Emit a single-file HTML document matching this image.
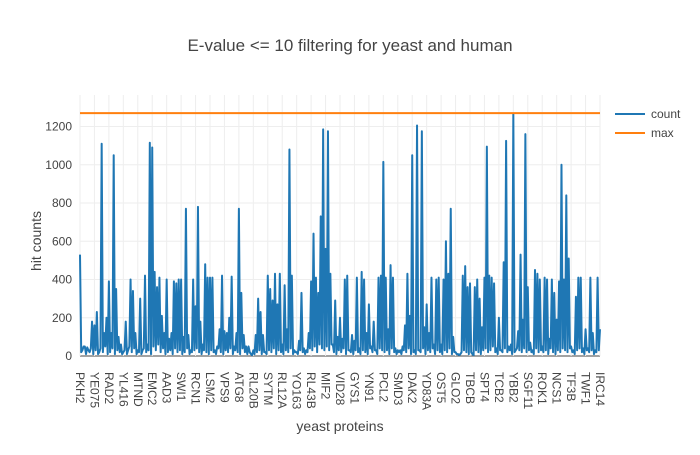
<!DOCTYPE html>
<html><head><meta charset="utf-8">
<style>
html,body{margin:0;padding:0;background:#fff;}
svg text{font-family:"Liberation Sans","DejaVu Sans",sans-serif;fill:#444;}
</style></head>
<body>
<svg id="chart" width="700" height="450" xmlns="http://www.w3.org/2000/svg">
<text x="350" y="51" font-size="17" text-anchor="middle">E-value &lt;= 10 filtering for yeast and human</text>
<g id="grid"></g>
<g id="yticks"></g>
<g id="xticks"></g>
<g id="series"></g>
<text x="0" y="0" font-size="14" text-anchor="middle" transform="translate(41,241) rotate(-90)">hit counts</text>
<text x="340" y="431" font-size="14" text-anchor="middle">yeast proteins</text>
<g>
  <g>
    <line x1="615" y1="114" x2="645" y2="114" stroke="#1f77b4" stroke-width="2"/>
    <text x="651" y="118" font-size="12">count</text>
  </g>
  <g>
    <line x1="615" y1="133" x2="645" y2="133" stroke="#ff7f0e" stroke-width="2"/>
    <text x="651" y="137" font-size="12">max</text>
  </g>
</g>
</svg>
<script>
const counts = [
530,20,30,50,50,10,45,30,20,40,180,10,
160,30,230,10,20,40,1110,20,120,50,200,10,
390,20,120,40,1050,10,350,30,100,20,60,10,
20,30,180,10,30,50,400,20,340,40,120,10,
30,20,300,10,30,40,420,20,60,30,1115,10,
1090,50,440,30,360,60,410,20,210,40,120,10,
400,20,90,30,120,10,390,40,380,20,400,30,
400,10,100,20,770,40,110,10,30,20,400,30,
260,40,780,20,180,10,60,30,480,20,410,10,
410,30,410,20,30,10,50,40,140,20,420,10,
130,30,120,20,200,40,415,10,50,30,120,20,
770,10,330,40,110,20,50,10,50,20,10,5,
30,10,110,20,300,30,230,10,110,20,20,10,
420,30,350,20,290,40,430,10,270,30,430,20,
60,10,370,30,140,20,1080,40,420,10,30,20,
20,10,80,30,330,20,40,10,30,20,120,40,
390,30,640,50,410,20,330,60,730,40,1185,30,
560,50,1175,30,430,60,60,20,290,10,100,30,
200,20,90,40,400,10,420,30,30,20,110,10,
80,30,410,20,40,10,440,30,400,20,120,10,
270,40,50,20,180,30,30,10,410,40,420,30,
1015,20,410,30,140,10,475,40,410,20,40,10,
30,20,30,10,50,30,160,20,430,40,210,10,
1050,20,30,10,1205,30,30,20,1175,40,150,10,
270,30,120,20,410,40,60,10,400,30,410,20,
60,10,400,30,600,20,430,40,770,10,100,20,
20,10,10,5,10,20,420,30,470,20,360,10,
380,20,10,5,360,30,400,20,300,10,150,30,
410,40,1095,20,420,30,410,50,380,20,40,10,
200,30,30,20,490,40,1125,20,50,30,60,10,
1265,20,30,40,130,30,530,20,190,40,1160,20,
360,30,70,20,30,10,450,40,430,20,400,30,
50,20,410,30,400,10,90,40,400,20,330,10,
190,30,390,20,1000,40,400,30,840,20,510,40,
50,20,30,10,310,30,410,40,410,20,40,10,
140,30,40,20,410,30,120,10,30,20,410,30,
140];
const maxValue = [1270];
const tickLabels = ["PKH2","YE075","RAD2","YL416","MTND","EMC2","AAD3","SWI1","RCN1","LSM2","VPS9","ATG8","RL20B","SYTM","RL12A","YO163","RL43B","MIF2","VID28","GYS1","YN91","PCL2","SMD3","DAK2","YD83A","OST5","GLO2","TBCB","SPT4","TCB2","YBB2","SGF11","ROK1","NCS1","TF3B","TWF1","IRC14"];
const tickEvery = [12];
const yTickValues = [0,200,400,600,800,1000,1200];

const NS = "http://www.w3.org/2000/svg";
const X0 = 80, X1 = 600, Y0 = 356, PXU = 0.19125;
const n = counts.length;
function xs(i){ return X0 + (X1 - X0) * i / (n - 1); }
function ys(v){ return Y0 - v * PXU; }
function mk(tag, attrs, parent){
  const e = document.createElementNS(NS, tag);
  for (const k in attrs) e.setAttribute(k, attrs[k]);
  parent.appendChild(e);
  return e;
}
const grid = document.getElementById('grid');
const yt = document.getElementById('yticks');
const xt = document.getElementById('xticks');
const ser = document.getElementById('series');

yTickValues.forEach(v => {
  const g = mk('line', {x1: X0, x2: X1, y1: ys(v), y2: ys(v), stroke: v === 0 ? '#444' : '#eee', 'stroke-width': 1}, grid);
  
  
  const t = mk('text', {x: 72, y: ys(v) + 4, 'font-size': 12, 'text-anchor': 'end'}, yt);
  t.textContent = v;
  
  
});
tickLabels.forEach((lab, k) => {
  const x = xs(k * tickEvery[0]);
  const g = mk('line', {x1: x, x2: x, y1: 95, y2: Y0, stroke: '#eee', 'stroke-width': 1}, grid);
  
  
  const t = mk('text', {x: 0, y: 0, 'font-size': 12, transform: 'translate(' + (x - 4) + ',372) rotate(90)'}, xt);
  t.textContent = lab;
  
  
});
let d = '';
counts.forEach((v, i) => { d += (i ? 'L' : 'M') + xs(i).toFixed(2) + ',' + ys(v).toFixed(2); });
const p = mk('path', {d: d, fill: 'none', stroke: '#1f77b4', 'stroke-width': 2, 'stroke-linejoin': 'round'}, ser);


const m = mk('line', {x1: X0, x2: X1, y1: ys(maxValue[0]), y2: ys(maxValue[0]), stroke: '#ff7f0e', 'stroke-width': 2}, ser);


</script>
</body></html>
